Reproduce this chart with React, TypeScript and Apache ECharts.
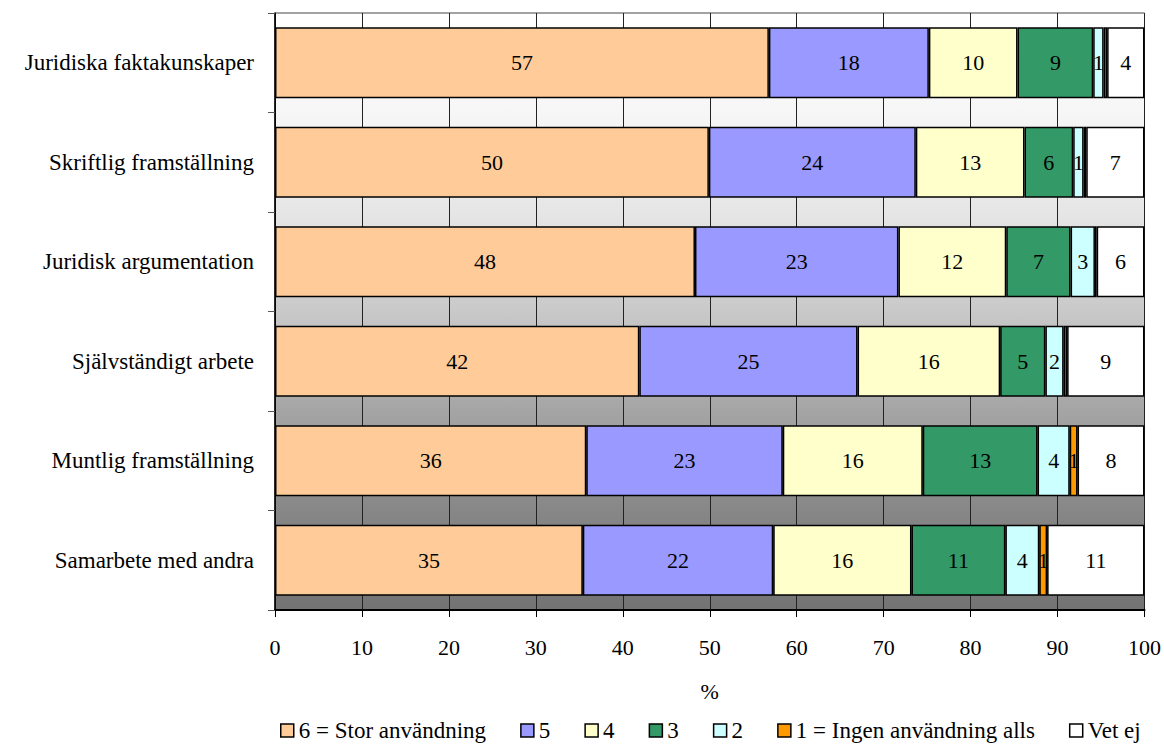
import React, { useEffect, useRef } from "react";
import * as echarts from "echarts";

// Skill areas, top to bottom
const categories = [
  "Juridiska faktakunskaper",
  "Skriftlig framställning",
  "Juridisk argumentation",
  "Självständigt arbete",
  "Muntlig framställning",
  "Samarbete med andra",
];

// Share of answers (%) per rating, one value per skill area
const rating6 = [56.8, 49.9, 48.3, 41.9, 35.8, 35.4];
const rating5 = [18.4, 23.8, 23.4, 25.1, 22.6, 21.9];
const rating4 = [10.2, 12.5, 12.4, 16.4, 16.1, 15.9];
const rating3 = [8.7, 5.6, 7.4, 5.2, 13.2, 10.8];
const rating2 = [1.2, 1.2, 2.8, 2.1, 3.7, 3.9];
const rating1 = [0.4, 0.3, 0.2, 0.4, 0.9, 0.9];
const dontKnow = [4.3, 6.7, 5.5, 8.9, 7.7, 11.2];

const seriesNames = [
  "6 = Stor användning",
  "5",
  "4",
  "3",
  "2",
  "1 = Ingen användning alls",
  "Vet ej",
];
const seriesData = [rating6, rating5, rating4, rating3, rating2, rating1, dontKnow];
const seriesColors = ["#FFCC99", "#9999FF", "#FFFFCC", "#339966", "#CCFFFF", "#FF9900", "#FFFFFF"];

const xTicks = [0, 10, 20, 30, 40, 50, 60, 70, 80, 90, 100];

const FONT = "'Liberation Serif', 'Times New Roman', serif";

export default function App() {
  const ref = useRef<HTMLDivElement>(null);

  useEffect(() => {
    document.body.style.margin = "0";
    if (!ref.current) return;
    const chart = echarts.init(ref.current, undefined, { renderer: "svg" });

    const series = seriesNames.map((name, i) => ({
      name,
      type: "bar",
      stack: "total",
      barWidth: 71,
      data: seriesData[i],
      itemStyle: { color: seriesColors[i], borderColor: "#000", borderWidth: 1.5 },
      label: {
        show: true,
        position: "inside",
        color: "#000",
        fontFamily: FONT,
        fontSize: 22,
        formatter: (p: any) => {
          const r = Math.round(p.value);
          return r === 0 ? "" : String(r);
        },
      },
      emphasis: { disabled: true },
    }));

    chart.setOption({
      animation: false,
      backgroundColor: "#ffffff",
      textStyle: { fontFamily: FONT },
      grid: {
        left: 275,
        right: 19,
        top: 13,
        bottom: 136,
        show: true,
        borderColor: "#444",
        borderWidth: 1,
        backgroundColor: new echarts.graphic.LinearGradient(0, 0, 0, 1, [
          { offset: 0, color: "#ffffff" },
          { offset: 0.17, color: "#f6f6f6" },
          { offset: 0.34, color: "#e5e5e5" },
          { offset: 0.5, color: "#c9c9c9" },
          { offset: 0.67, color: "#a4a4a4" },
          { offset: 0.84, color: "#868686" },
          { offset: 1, color: "#737373" },
        ]),
      },
      legend: {
        left: 280,
        top: 719,
        padding: 0,
        itemWidth: 13,
        itemHeight: 13,
        itemGap: 34,
        icon: "rect",
        selectedMode: false,
        itemStyle: { borderColor: "#000", borderWidth: 1.5 },
        textStyle: { fontFamily: FONT, fontSize: 23, color: "#000" },
        data: seriesNames,
      },
      xAxis: {
        type: "value",
        min: xTicks[0],
        max: xTicks[xTicks.length - 1],
        interval: 10,
        name: "%",
        nameLocation: "middle",
        nameGap: 70,
        nameTextStyle: { fontFamily: FONT, fontSize: 22, color: "#000" },
        axisLine: { show: true, lineStyle: { color: "#000", width: 2 } },
        axisTick: { show: true, length: 7, lineStyle: { color: "#000", width: 1 } },
        axisLabel: { fontFamily: FONT, fontSize: 22, color: "#000", margin: 26 },
        splitLine: { show: true, lineStyle: { color: "#222", width: 1 } },
      },
      yAxis: {
        type: "category",
        inverse: true,
        data: categories,
        axisLine: { show: true, lineStyle: { color: "#000", width: 1.5 } },
        axisTick: { show: true, length: 7, lineStyle: { color: "#555", width: 1 } },
        axisLabel: { fontFamily: FONT, fontSize: 23, color: "#000", margin: 21 },
        splitLine: { show: false },
      },
      series,
    });

    return () => chart.dispose();
  }, []);

  return (
    <div
      ref={ref}
      style={{ position: "absolute", left: 0, top: 0, width: 1164, height: 746 }}
    />
  );
}
